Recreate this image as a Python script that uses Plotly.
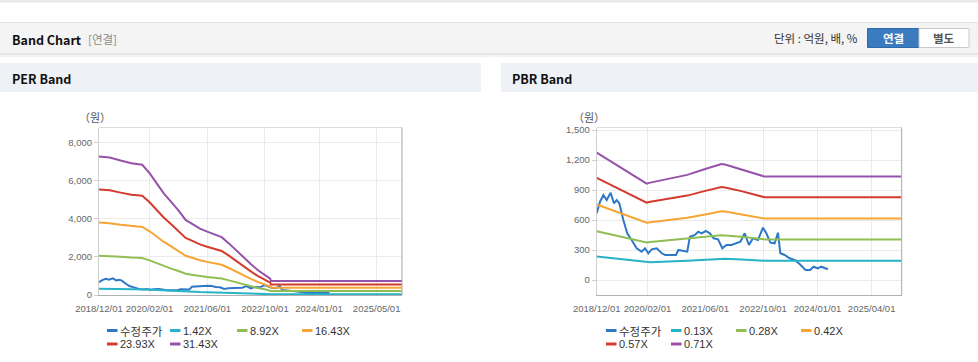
import plotly.graph_objects as go

W, H = 978, 362

# ---------------- PER band data ----------------
per_dates = ["2018-12-01", "2019-03-01", "2019-06-01", "2019-09-01", "2019-12-01",
             "2020-02-01", "2020-04-01", "2020-06-01", "2020-08-01", "2020-10-01",
             "2020-12-01", "2021-02-01", "2021-04-01", "2021-06-01", "2021-08-01",
             "2021-10-01", "2021-12-01", "2022-02-01", "2022-04-01", "2022-06-01",
             "2022-08-01", "2022-10-01", "2022-11-15", "2022-11-20", "2025-12-01"]
per_1_42 = [328, 325, 318, 312, 308, 288, 264, 240, 220, 200, 178, 168, 157, 150, 143,
            137, 122, 105, 89, 74, 59, 47, 39, 33, 33]
per_8_92 = [2058, 2043, 1998, 1958, 1936, 1811, 1659, 1507, 1383, 1258, 1115, 1053, 987,
            942, 901, 860, 767, 660, 562, 466, 372, 298, 243, 207, 207]
per_16_43 = [3790, 3762, 3680, 3606, 3565, 3335, 3056, 2777, 2547, 2317, 2054, 1939, 1817,
             1735, 1659, 1584, 1413, 1216, 1035, 858, 685, 549, 447, 381, 381]
per_23_93 = [5521, 5480, 5360, 5253, 5193, 4858, 4451, 4044, 3709, 3374, 2991, 2824, 2647,
             2527, 2417, 2307, 2058, 1771, 1508, 1249, 998, 799, 651, 555, 555]
per_31_43 = [7251, 7197, 7040, 6899, 6820, 6380, 5846, 5312, 4872, 4432, 3929, 3709, 3476,
             3319, 3174, 3030, 2703, 2326, 1980, 1641, 1311, 1050, 855, 729, 729]
per_names = ["1.42X", "8.92X", "16.43X", "23.93X", "31.43X"]

# ---------------- PBR band data ----------------
pbr_dates = ["2018-12-01", "2020-01-25", "2020-02-25", "2021-01-01", "2021-06-01",
             "2021-10-15", "2021-11-15", "2022-04-01", "2022-10-15", "2025-12-10"]
pbr_0_13 = [235, 176, 178, 192, 203, 213, 212, 204, 193, 193]
pbr_0_28 = [488, 376, 380, 410, 432, 447, 446, 432, 406, 406]
pbr_0_42 = [755, 572, 578, 622, 656, 688, 684, 656, 614, 614]
pbr_0_57 = [1022, 774, 782, 844, 891, 929, 926, 889, 827, 827]
pbr_0_71 = [1274, 963, 974, 1051, 1110, 1160, 1155, 1108, 1034, 1034]
pbr_names = ["0.13X", "0.28X", "0.42X", "0.57X", "0.71X"]

# ---------------- adjusted price (수정주가) ----------------
price_dates = ["2018-12-01", "2018-12-29", "2019-01-26", "2019-02-23", "2019-03-28",
               "2019-04-25", "2019-05-18", "2019-06-09", "2019-07-13", "2019-08-15",
               "2019-09-21", "2019-11-02", "2019-12-14", "2020-01-11", "2020-02-08",
               "2020-03-08", "2020-04-19", "2020-05-31", "2020-06-28", "2020-08-23",
               "2020-09-28", "2020-10-18", "2020-11-29", "2021-01-01", "2021-01-23",
               "2021-03-06", "2021-04-03", "2021-05-01", "2021-06-06", "2021-07-10",
               "2021-08-12", "2021-09-17", "2021-10-23", "2021-11-26", "2022-01-07",
               "2022-02-18", "2022-03-24", "2022-04-29", "2022-06-04", "2022-07-08",
               "2022-08-19", "2022-09-30", "2022-10-28", "2022-12-01", "2023-01-06",
               "2023-02-03", "2023-02-23", "2023-03-31", "2023-05-12", "2023-06-23",
               "2023-08-04", "2023-09-23", "2023-11-01", "2023-11-29", "2024-01-05",
               "2024-02-02", "2024-03-01", "2024-03-29"]
price = [667, 783, 850, 800, 873, 767, 800, 767, 600, 467, 400, 317, 283, 317, 267, 307,
         317, 267, 250, 250, 250, 300, 290, 283, 433, 450, 483, 467, 490, 467, 417, 407,
         317, 350, 350, 367, 383, 467, 350, 417, 400, 523, 467, 373, 367, 473, 267, 250,
         217, 200, 160, 100, 100, 133, 117, 133, 117, 107]
price_name = "수정주가"

per_xtick_vals = ["2018-12-01", "2020-02-01", "2021-06-01", "2022-10-01", "2024-01-01", "2025-05-01"]
per_xtick_text = ["2018/12/01", "2020/02/01", "2021/06/01", "2022/10/01", "2024/01/01", "2025/05/01"]
pbr_xtick_vals = ["2018-12-01", "2020-02-01", "2021-06-01", "2022-10-01", "2024-01-01", "2025-04-01"]
pbr_xtick_text = ["2018/12/01", "2020/02/01", "2021/06/01", "2022/10/01", "2024/01/01", "2025/04/01"]
per_ytick = [0, 2000, 4000, 6000, 8000]
pbr_ytick = [0, 300, 600, 900, 1200, 1500]

colors = ["#2f78c8", "#27b3c7", "#8fbf53", "#f6a535", "#d43b2e", "#9552a8"]

FONT = "Liberation Sans, Arial, Noto Sans CJK KR, sans-serif"
KFONT = "Noto Sans CJK KR, Noto Sans, sans-serif"


def px(x):
    return x / W


def py(y):
    return 1 - y / H


fig = go.Figure()

per_series = [per_1_42, per_8_92, per_16_43, per_23_93, per_31_43]
pbr_series = [pbr_0_13, pbr_0_28, pbr_0_42, pbr_0_57, pbr_0_71]

fig.add_trace(go.Scatter(x=price_dates, y=price, name=price_name, mode="lines",
                         line=dict(color=colors[0], width=2), xaxis="x", yaxis="y",
                         showlegend=False))
for i, (nm, s) in enumerate(zip(per_names, per_series)):
    fig.add_trace(go.Scatter(x=per_dates, y=s, name=nm, mode="lines",
                             line=dict(color=colors[i + 1], width=2), xaxis="x", yaxis="y",
                             showlegend=False))

fig.add_trace(go.Scatter(x=price_dates, y=price, name=price_name, mode="lines",
                         line=dict(color=colors[0], width=2), xaxis="x2", yaxis="y2",
                         showlegend=False))
for i, (nm, s) in enumerate(zip(pbr_names, pbr_series)):
    fig.add_trace(go.Scatter(x=pbr_dates, y=s, name=nm, mode="lines",
                             line=dict(color=colors[i + 1], width=2), xaxis="x2", yaxis="y2",
                             showlegend=False))

# plot areas in pixels
PER_L, PER_R = 99, 402
PBR_L, PBR_R = 596.7, 901.7
P_T, P_B = 127.5, 295

axis_common = dict(showgrid=True, gridcolor="#ebebeb", gridwidth=1, zeroline=False,
                   automargin=False,
                   tickfont=dict(family=FONT, size=9.5, color="#666"))

fig.update_layout(
    width=W, height=H, margin=dict(l=0, r=0, t=0, b=0, pad=0, autoexpand=False),
    autosize=False, showlegend=False,
    paper_bgcolor="white", plot_bgcolor="white",
    xaxis=dict(domain=[px(PER_L), px(PER_R)], anchor="y", type="date",
               range=["2018-12-01", "2025-12-01"], tickvals=per_xtick_vals,
               ticktext=per_xtick_text, showline=True, linecolor="#b0b0b0", ticks="",
               tickangle=0, ticklabelstandoff=5, **axis_common),
    yaxis=dict(domain=[py(P_B), py(P_T)], anchor="x", range=[0, 8770],
               tickvals=per_ytick, tickformat=",", showline=True, linecolor="#cfcfcf",
               ticks="outside", ticklen=4, tickcolor="#cfcfcf", **axis_common),
    xaxis2=dict(domain=[px(PBR_L), px(PBR_R)], anchor="y2", type="date",
                range=["2018-12-01", "2025-12-10"], tickvals=pbr_xtick_vals,
                ticktext=pbr_xtick_text, showline=True, linecolor="#b0b0b0", ticks="",
                tickangle=0, ticklabelstandoff=5, **axis_common),
    yaxis2=dict(domain=[py(P_B), py(P_T)], anchor="x2", range=[-150, 1525],
                tickvals=pbr_ytick, tickformat=",", showline=True, linecolor="#cfcfcf",
                ticks="outside", ticklen=4, tickcolor="#cfcfcf", **axis_common),
)

shapes = []
ann = []


def rect(x0, y0, x1, y1, fill, line=None, lw=0):
    shapes.append(dict(type="rect", xref="paper", yref="paper", x0=px(x0), x1=px(x1),
                       y0=py(y1), y1=py(y0), fillcolor=fill,
                       line=dict(color=line or fill, width=lw), layer="below"))


def hline(x0, x1, y, color, w=1, layer="below"):
    shapes.append(dict(type="line", xref="paper", yref="paper", x0=px(x0), x1=px(x1),
                       y0=py(y), y1=py(y), line=dict(color=color, width=w), layer=layer))


def vline(x, y0, y1, color, w=1, layer="below"):
    shapes.append(dict(type="line", xref="paper", yref="paper", x0=px(x), x1=px(x),
                       y0=py(y0), y1=py(y1), line=dict(color=color, width=w), layer=layer))


def text(x, y, t, size=12, color="#333", family=KFONT, xanchor="left", bold=False):
    if bold:
        t = "<b>" + t + "</b>"
    ann.append(dict(xref="paper", yref="paper", x=px(x), y=py(y), text=t, showarrow=False,
                    xanchor=xanchor, yanchor="middle", borderpad=0,
                    font=dict(size=size, color=color, family=family)))


# top thin line
rect(0, 0, W, 2.5, "#e9e9e9")
# header bar
rect(0, 22, W, 53, "#f4f4f4")
hline(0, W, 22.5, "#e2e2e2")
rect(0, 53, W, 55, "#e6e6e6")
rect(0, 55, W, 57, "#f3f3f3")
text(11, 39.5, "Band Chart", size=12.5, color="#111", bold=True)
text(87, 39.5, "[연결]", size=11.5, color="#8a8a8a")
text(859, 38, "단위 : 억원, 배, %", size=11.5, color="#333", xanchor="right")
shapes.append(dict(type="rect", xref="paper", yref="paper", x0=px(867.5), x1=px(919),
                   y0=py(47.5), y1=py(28.5), fillcolor="#3a7bbf",
                   line=dict(color="#2f6aa8", width=1), layer="below"))
shapes.append(dict(type="rect", xref="paper", yref="paper", x0=px(919), x1=px(969),
                   y0=py(47.5), y1=py(28.5), fillcolor="#ffffff",
                   line=dict(color="#c9c9c9", width=1), layer="below"))
text(893, 38, "연결", size=11.5, color="white", xanchor="center", bold=True)
text(944, 38, "별도", size=11.5, color="#555", xanchor="center", bold=True)

# panel headers
rect(0, 63, 481, 92, "#eef2f7")
rect(501, 63, W, 92, "#eef2f7")
text(11, 78, "PER Band", size=12.5, color="#111", bold=True)
text(511, 78, "PBR Band", size=12.5, color="#111", bold=True)

# plot frame extras
for L, R in ((PER_L, PER_R), (PBR_L, PBR_R)):
    hline(L, R, P_T, "#dcdcdc", layer="above")
    vline(R, P_T, P_B, "#a8a8a8", layer="above")

# unit labels
text(95, 117, "（원）", size=11, color="#555", xanchor="center")
text(589, 117, "（원）", size=11, color="#555", xanchor="center")


# legends
def legend(x_starts, names):
    rows = [330.5, 344]
    for k, nm in enumerate(names):
        r = k // 4
        c = k % 4
        x0 = x_starts[c]
        y = rows[r]
        shapes.append(dict(type="line", xref="paper", yref="paper", x0=px(x0), x1=px(x0 + 10.5),
                           y0=py(y), y1=py(y), line=dict(color=colors[k], width=3)))
        text(x0 + 12, y, nm, size=11.5 if k == 0 else 11, color="#333",
             family=KFONT if k == 0 else FONT)


legend([107, 170, 237, 302], [price_name] + per_names)
legend([606, 671, 736, 801], [price_name] + pbr_names)

fig.update_layout(shapes=shapes, annotations=ann)
fig.write_html("out.html", config={"displayModeBar": False},
               post_script="document.body.style.margin='0';document.body.style.overflow='hidden';")
